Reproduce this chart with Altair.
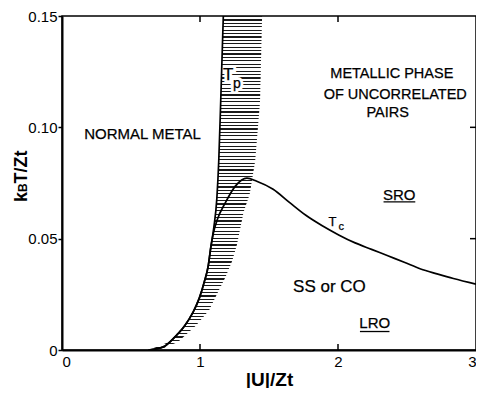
import altair as alt
import pandas as pd

# ---- curves (x = |U|/Zt, y = kBT/Zt) ----
low_x = [0.627, 0.734, 0.817, 0.889, 0.948, 0.995, 1.031, 1.060, 1.078]
low_y = [0.0, 0.0014, 0.0058, 0.0109, 0.0168, 0.0233, 0.0306, 0.0379, 0.046]

tc_x = [1.097, 1.125, 1.185, 1.256, 1.34, 1.411, 1.530, 1.648, 1.767, 1.886,
        2.005, 2.124, 2.243, 2.361, 2.480, 2.599, 2.717, 2.836, 3.0]
tc_y = [0.0525, 0.0585, 0.0663, 0.0736, 0.0772, 0.0758, 0.0722, 0.0663,
        0.0605, 0.0558, 0.0517, 0.0481, 0.0452, 0.0423, 0.0394, 0.0364,
        0.0342, 0.0321, 0.0296]

tp_x = [1.10, 1.122, 1.136, 1.150, 1.169]
tp_y = [0.055, 0.068, 0.085, 0.1115, 0.15]

# hatched band right of Tp
hatch_y = [0, 0.0036, 0.011, 0.018, 0.0255, 0.0328, 0.040, 0.0474, 0.0547,
           0.062, 0.070, 0.085, 0.1115, 0.15]
hatch_left = [0.627, 0.775, 0.889, 0.955, 1.005, 1.039, 1.066, 1.082, 1.10,
              1.113, 1.124, 1.136, 1.150, 1.169]
hatch_right = [0.70, 0.84, 0.971, 1.067, 1.126, 1.185, 1.233, 1.268, 1.292,
               1.316, 1.36, 1.40, 1.435, 1.45]

# axis ticks
x_ticks = [0, 1, 2, 3]
y_ticks = [0, 0.05, 0.10, 0.15]
inner_x_ticks = [1, 2]
inner_y_ticks = [0.05, 0.10]

# annotations
ann_text = ["NORMAL METAL", "METALLIC PHASE", "OF UNCORRELATED", "PAIRS",
            "SS or CO", "SRO", "LRO", "T", "c"]
ann_x = [0.584, 2.39, 2.415, 2.36, 1.938, 2.444, 2.266, 1.96, 2.024]
ann_y = [0.0971, 0.1238, 0.1146, 0.1063, 0.0284, 0.0695, 0.0122, 0.0577, 0.0551]
ann_size = [15, 14.5, 14.5, 14.5, 17, 15, 15, 13, 11]

# Tp label (sits on the hatching)
tp_text = ["T", "p"]
tp_lx = [1.205, 1.268]
tp_ly = [0.1235, 0.1195]
tp_size = [17, 14]

ul_x = [2.33, 2.159]
ul_x2 = [2.56, 2.373]
ul_y = [0.0665, 0.0083]

ytitle_parts = ["k", "B", "T/Zt"]
x_title = "|U|/Zt"

W, H = 414, 334
FONT = "Liberation Sans"

xs = alt.Scale(domain=[0, 3], nice=False, zero=False)
ys = alt.Scale(domain=[0, 0.15], nice=False, zero=False)
xaxis = alt.Axis(values=x_ticks, format="d", title=x_title, ticks=False,
                 labelPadding=4, labelFontSize=15, labelColor="black",
                 labelFont=FONT, titleFont=FONT, titleFontSize=19,
                 titleFontWeight="bold", titleColor="black", titlePadding=1,
                 domainColor="black", domainWidth=2, grid=False)
yaxis = alt.Axis(values=y_ticks,
                 labelExpr="datum.value == 0 ? '0' : format(datum.value, '.2f')",
                 title="", tickSize=4, tickWidth=1.5, tickColor="black",
                 labelPadding=1, labelFontSize=15, labelColor="black",
                 labelFont=FONT, domainColor="black", domainWidth=2, grid=False)
X = alt.X("x:Q", scale=xs, axis=xaxis)
Y = alt.Y("y:Q", scale=ys, axis=yaxis)

# stripe gradient for hatching
n = 98
d = 0.34 / n
stops = []
for k in range(n):
    o = k / n
    stops += [alt.GradientStop(offset=o, color="rgba(255,255,255,0)"),
              alt.GradientStop(offset=o, color="#1a1a1a"),
              alt.GradientStop(offset=o + d, color="#1a1a1a"),
              alt.GradientStop(offset=o + d, color="rgba(255,255,255,0)")]
grad = alt.LinearGradient(gradient="linear", stops=stops, x1=0, x2=0, y1=0, y2=1)

hatch_df = pd.DataFrame({"y": hatch_y, "x": hatch_left, "x2": hatch_right})
hatch = alt.Chart(hatch_df).mark_area(orient="horizontal", fill=grad,
                                      strokeWidth=0).encode(
    y=Y, x=X, x2=alt.X2("x2:Q"))

tc_df = pd.DataFrame({"x": low_x + tc_x, "y": low_y + tc_y})
tc_df["i"] = range(len(tc_df))
tp_df = pd.DataFrame({"x": low_x + tp_x, "y": low_y + tp_y})
tp_df["i"] = range(len(tp_df))

tc_line = alt.Chart(tc_df).mark_line(color="black", strokeWidth=1.7,
                                     interpolate="monotone").encode(
    x=X, y=Y, order="i:Q")
tp_line = alt.Chart(tp_df).mark_line(color="black", strokeWidth=1.7,
                                     interpolate="monotone").encode(
    x=X, y=Y, order="i:Q")

xt_df = pd.DataFrame({"x": inner_x_ticks})
yt_df = pd.DataFrame({"y": inner_y_ticks})
tick_b = alt.Chart(xt_df).mark_rule(color="black", strokeWidth=1.5).encode(
    x=X, y=alt.value(H), y2=alt.value(H - 6))
tick_t = alt.Chart(xt_df).mark_rule(color="black", strokeWidth=1.5).encode(
    x=X, y=alt.value(0), y2=alt.value(6))
tick_r = alt.Chart(yt_df).mark_rule(color="black", strokeWidth=1.5).encode(
    y=Y, x=alt.value(W), x2=alt.value(W - 6))

ann_df = pd.DataFrame({"t": ann_text, "x": ann_x, "y": ann_y, "s": ann_size})
ann = alt.Chart(ann_df).mark_text(font=FONT, color="black", align="center",
                                  baseline="middle", stroke="black",
                                  strokeWidth=0.25).encode(
    x=X, y=Y, text="t:N", size=alt.Size("s:Q", scale=None, legend=None))

tpl_df = pd.DataFrame({"t": tp_text, "x": tp_lx, "y": tp_ly, "s": tp_size})
tp_halo = alt.Chart(tpl_df).mark_text(font=FONT, color="white", align="center",
                                      baseline="middle", stroke="white",
                                      strokeWidth=6).encode(
    x=X, y=Y, text="t:N", size=alt.Size("s:Q", scale=None, legend=None))
tp_lab = alt.Chart(tpl_df).mark_text(font=FONT, color="black", align="center",
                                     baseline="middle", stroke="black",
                                     strokeWidth=0.25).encode(
    x=X, y=Y, text="t:N", size=alt.Size("s:Q", scale=None, legend=None))

ul_df = pd.DataFrame({"x": ul_x, "x2": ul_x2, "y": ul_y})
ul = alt.Chart(ul_df).mark_rule(color="black", strokeWidth=1.3).encode(
    x=X, x2=alt.X2("x2:Q"), y=Y)

# rotated y title with subscript B
tpos = [(-35, 186, 18), (-35, 176, 12), (-35, 167.5, 18)]
ytitle = []
for txt, (px, py, fs) in zip(ytitle_parts, tpos):
    ytitle.append(alt.Chart(pd.DataFrame({"t": [txt]})).mark_text(
        font=FONT, fontSize=fs, fontWeight="bold", angle=270, align="left",
        baseline="alphabetic", color="black").encode(
        text="t:N", x=alt.value(px), y=alt.value(py)))

chart = alt.layer(hatch, tp_halo, tc_line, tp_line, tick_b, tick_t, tick_r,
                  ann, tp_lab, ul, *ytitle).properties(
    width=W, height=H,
    padding={"left": 54, "top": 8, "right": 0, "bottom": 38},
    autosize=alt.AutoSizeParams(type="none"),
    background="white",
).configure_view(stroke="black", strokeWidth=1.5)

chart.save("out.html", embed_options={"renderer": "svg", "actions": False})
